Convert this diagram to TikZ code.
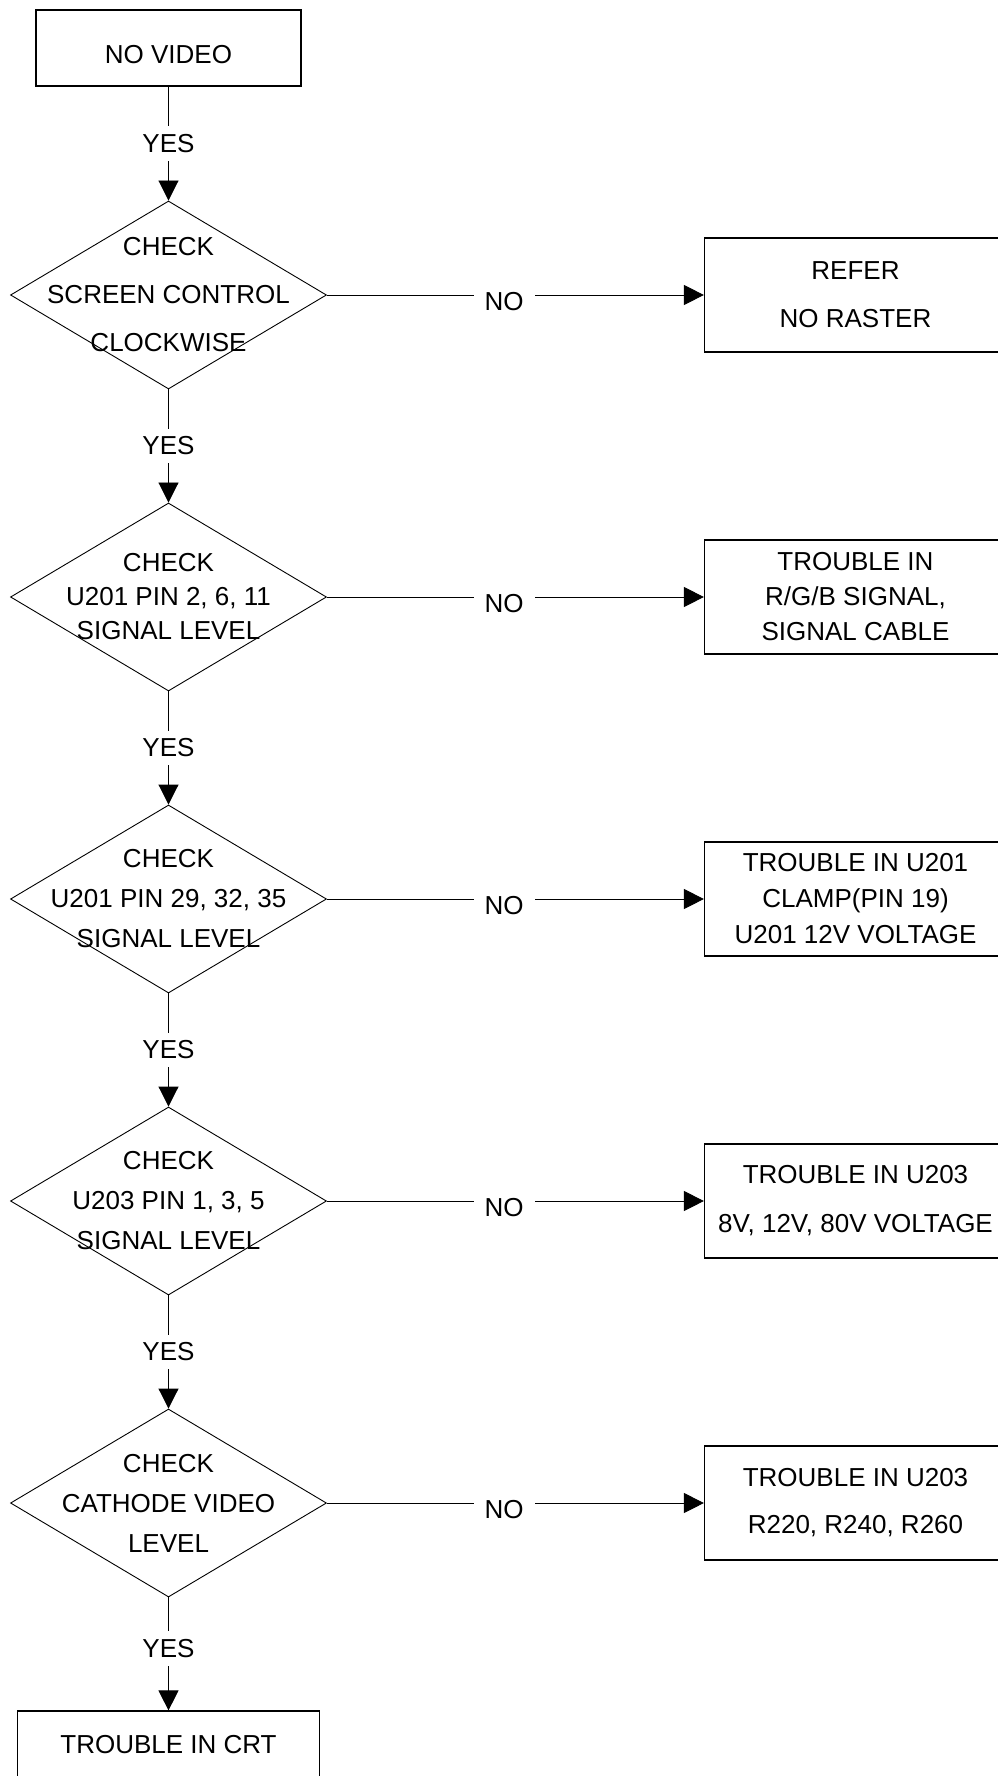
\documentclass[tikz,border=0pt]{standalone}
\usepackage{fontspec}
\setmainfont{Liberation Sans}
\usetikzlibrary{shapes.geometric, arrows.meta, positioning}

\begin{document}
\begin{tikzpicture}[node distance=302pt, line width=0.9pt, >={Triangle[length=20pt, width=20pt]},
  block/.style={rectangle, draw, line width=1.2pt, minimum width=302pt, minimum height=114pt, align=center, font=\fontsize{26}{#1}\selectfont},
  block/.default=48,
  decision/.style={diamond, draw, minimum width=316pt, minimum height=188pt, inner sep=0pt},
  checktext/.style={align=center, font=\fontsize{26}{#1}\selectfont},
  yeslabel/.style={fill=white, inner xsep=6pt, inner ysep=8pt, font=\fontsize{26}{30}\selectfont},
  nolabel/.style={yeslabel, inner xsep=11pt, pos=0.47, yshift=-7pt}]

  \useasboundingbox (0,0) rectangle (997pt,-1776pt);

  \node[block, minimum width=265pt, minimum height=76pt, text height=31pt] (novideo) at (168.5pt,-48pt) {NO VIDEO};
  \node[decision, node distance=247pt, below of=novideo, label={[checktext=48]center:{CHECK\\SCREEN CONTROL\\CLOCKWISE}}] (screen) {};
  \node[decision, below of=screen, label={[checktext=34]center:{CHECK\\U201 PIN 2, 6, 11\\SIGNAL LEVEL}}] (rgbin) {};
  \node[decision, below of=rgbin, label={[checktext=40]center:{CHECK\\U201 PIN 29, 32, 35\\SIGNAL LEVEL}}] (rgbout) {};
  \node[decision, below of=rgbout, label={[checktext=40]center:{CHECK\\U203 PIN 1, 3, 5\\SIGNAL LEVEL}}] (drive) {};
  \node[decision, below of=drive, label={[checktext=40]center:{CHECK\\CATHODE VIDEO\\LEVEL}}] (cathode) {};
  \node[block, minimum height=68pt, node distance=242pt, below of=cathode] (crt) {TROUBLE IN CRT};

  \node[block, node distance=687pt, right of=screen] (noraster) {REFER\\NO RASTER};
  \node[block=35, node distance=687pt, right of=rgbin] (cable) {TROUBLE IN\\R/G/B SIGNAL,\\SIGNAL CABLE};
  \node[block=36, node distance=687pt, right of=rgbout] (clamp) {TROUBLE IN U201\\CLAMP(PIN 19)\\U201 12V VOLTAGE};
  \node[block=49, node distance=687pt, right of=drive] (supply) {TROUBLE IN U203\\8V, 12V, 80V VOLTAGE};
  \node[block=47, node distance=687pt, right of=cathode] (resist) {TROUBLE IN U203\\R220, R240, R260};

  \draw[->] (novideo) -- node[yeslabel] {YES} (screen);
  \draw[->] (screen) -- node[yeslabel] {YES} (rgbin);
  \draw[->] (rgbin) -- node[yeslabel] {YES} (rgbout);
  \draw[->] (rgbout) -- node[yeslabel] {YES} (drive);
  \draw[->] (drive) -- node[yeslabel] {YES} (cathode);
  \draw[->] (cathode) -- node[yeslabel, pos=0.45] {YES} (crt);

  \draw[->] (screen) -- node[nolabel] {NO} (noraster);
  \draw[->] (rgbin) -- node[nolabel] {NO} (cable);
  \draw[->] (rgbout) -- node[nolabel] {NO} (clamp);
  \draw[->] (drive) -- node[nolabel] {NO} (supply);
  \draw[->] (cathode) -- node[nolabel] {NO} (resist);
\end{tikzpicture}
\end{document}
